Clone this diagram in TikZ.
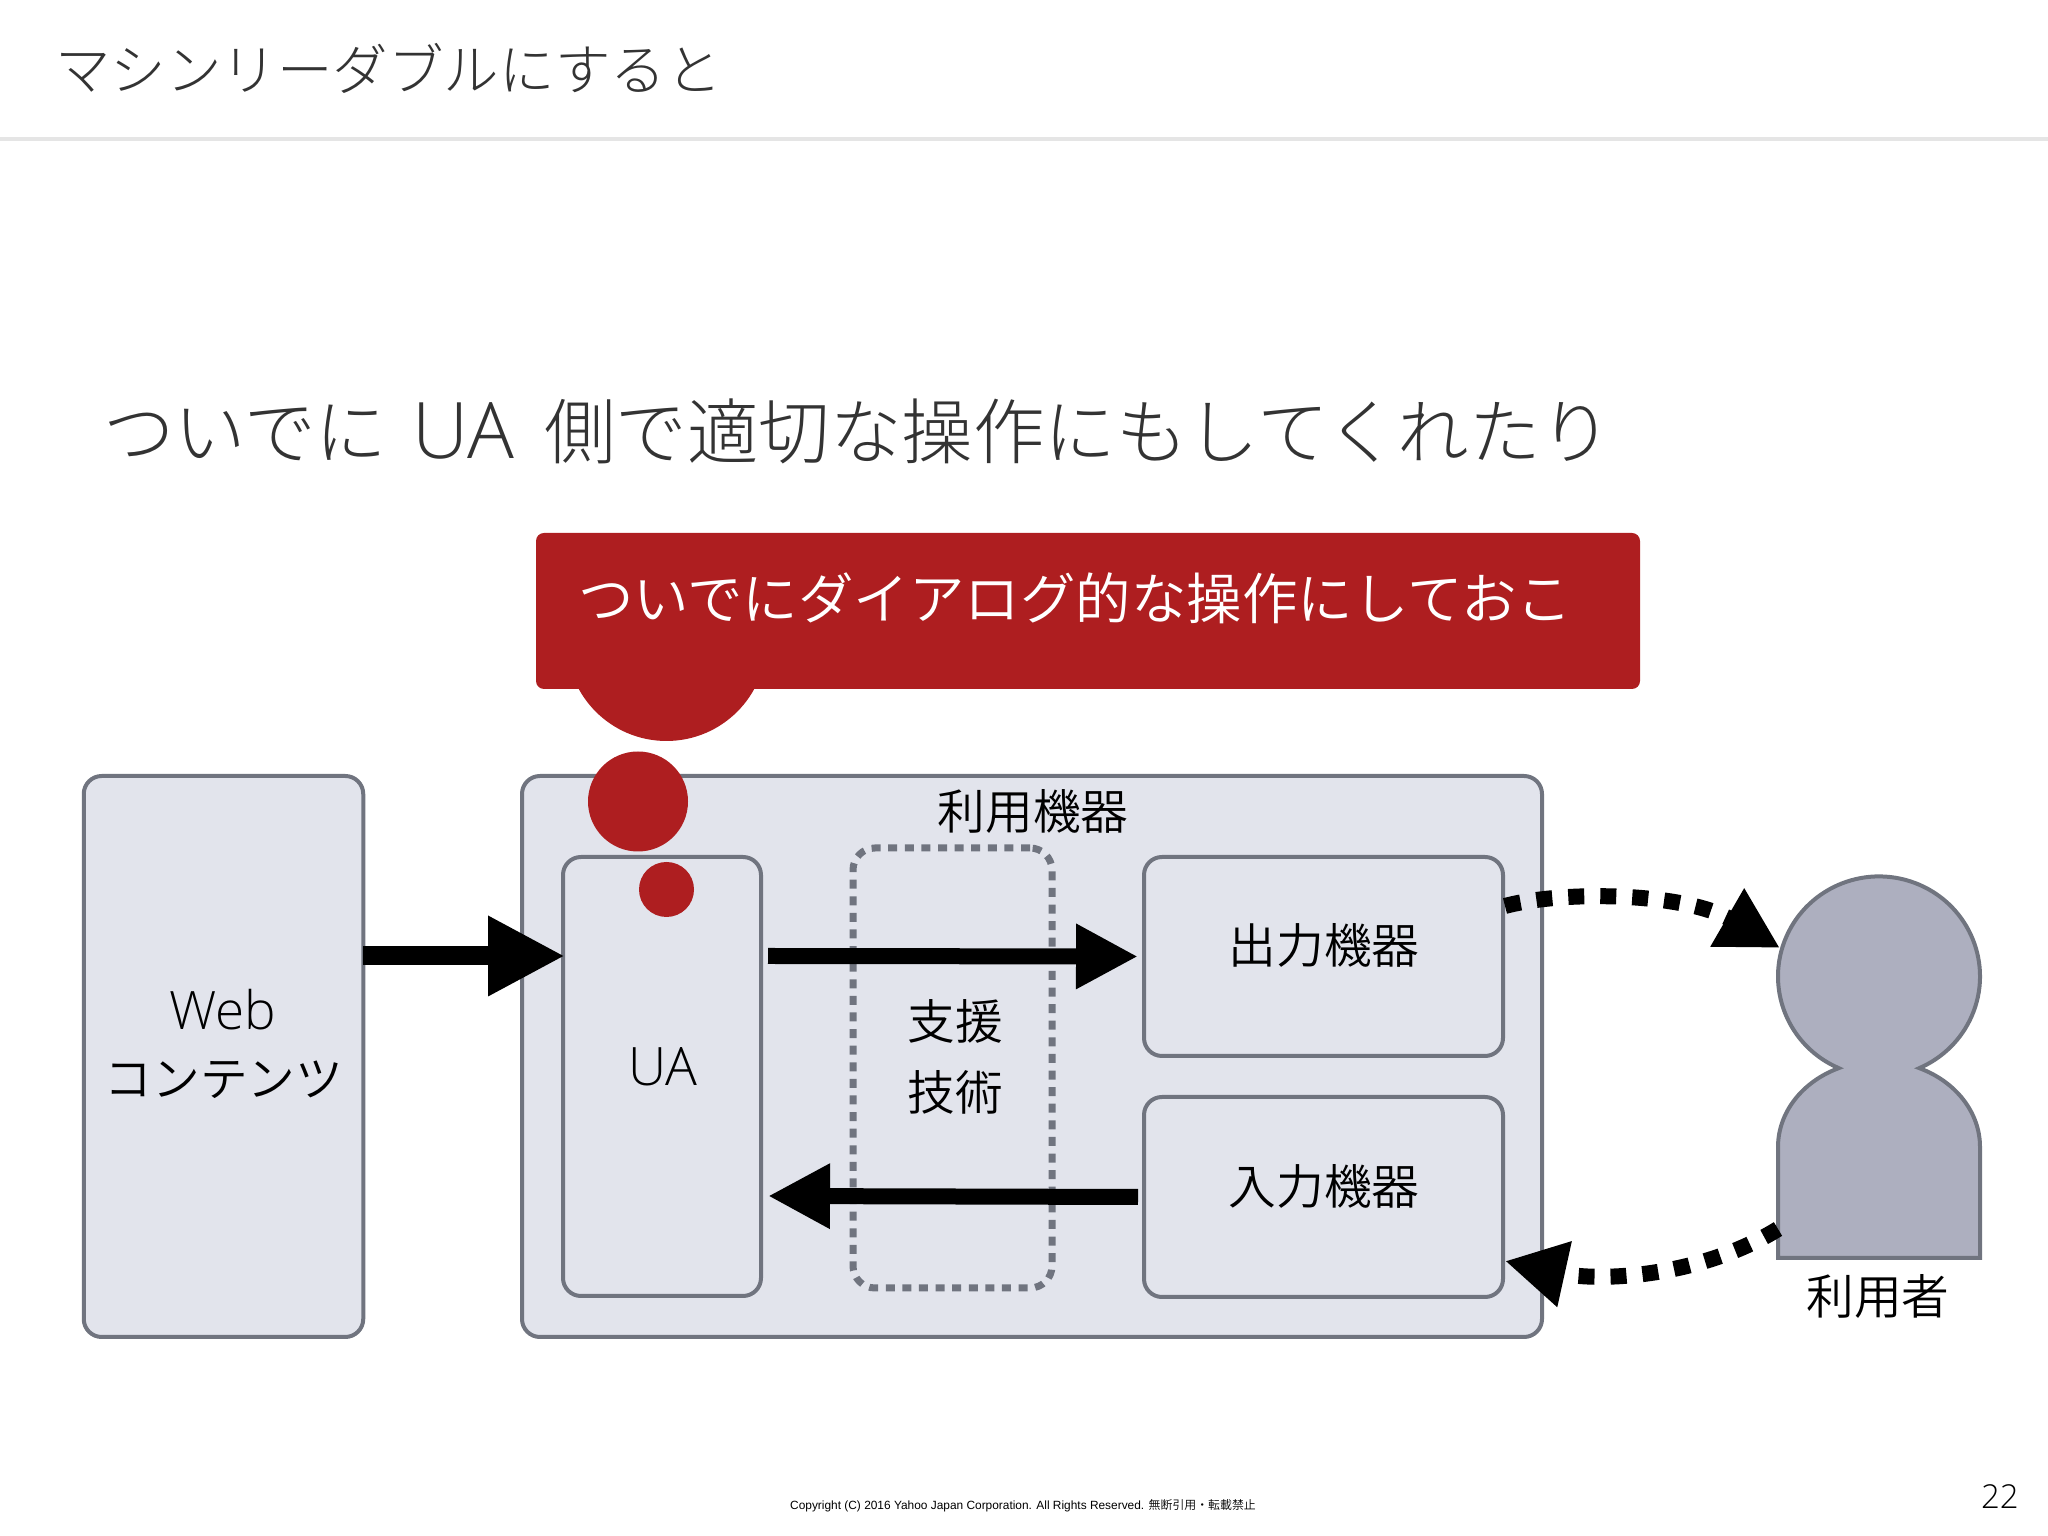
\documentclass[tikz,border=0pt]{standalone}
\usepackage{fontspec}
\setmainfont{Noto Sans CJK JP DemiLight}
\newfontfamily\leadfont{Noto Sans CJK JP Light}
\newfontfamily\latinfont{Open Sans Light}
\newfontfamily\footfont{Liberation Sans}
\usetikzlibrary{arrows.meta}
\usetikzlibrary{positioning}
\definecolor{boxfill}{HTML}{E2E4EC}
\definecolor{boxline}{HTML}{70747F}
\definecolor{userfill}{HTML}{ADAFBF}
\definecolor{bubblered}{HTML}{AE1E20}
\definecolor{inktext}{HTML}{333333}
\tikzset{
  devbox/.style={draw=boxline, fill=boxfill, line width=4pt, rounded corners=18pt, inner sep=0pt},
  supportbox/.style={draw=boxline, line width=7pt, rounded corners=22pt, dash pattern=on 9pt off 7.6pt, inner sep=0pt},
  bubble/.style={fill=bubblered, inner sep=0pt},
  boxlabel/.style={font=\fontsize{47.7}{47.7}\selectfont, inner sep=0pt},
  latinlabel/.style={font=\fontsize{53}{53}\selectfont\latinfont, inner sep=0pt},
  bigflow/.style={line width=19pt, -{Triangle[length=77pt, width=75pt]}},
  midflow/.style={line width=16pt, -{Triangle[length=62pt, width=61pt]}},
  userflow/.style={line width=16pt, dash pattern=on 16pt off 16pt, -{Triangle[length=61pt, width=63pt]}},
}

\begin{document}
\begin{tikzpicture}[x=1pt, y=1pt]
    \useasboundingbox (0, 0) rectangle (2048, 1536);

    % slide head
    \node[font=\fontsize{55.5}{55.5}\selectfont\leadfont, text=inktext, anchor=west, inner sep=0pt] (title) at (55, 1468) {マシンリーダブルにすると};
    \draw[line width=4pt, color=black!10] (0, 1396.5) -- (2048, 1396.5);
    \node[font=\fontsize{71.5}{71.5}\selectfont\leadfont, text=inktext, anchor=west, inner sep=0pt] (lead) at (103, 1105) {ついでに\hspace{25pt}{\fontsize{78}{78}\selectfont\latinfont UA}\hspace{30pt}側で適切な操作にもしてくれたり};

    % boxes
    \node[devbox, minimum width=279.5pt, minimum height=561pt] (web) at (223.5, 479.5) {};
    \node[devbox, minimum width=1020pt, minimum height=561pt] (device) at (1032, 479.5) {};
    \node[devbox, minimum width=198pt, minimum height=439pt] (ua) at (662, 459.5) {};
    \node[supportbox, minimum width=199pt, minimum height=440pt] (support) at (952.5, 468) {};
    \node[devbox, minimum width=359pt, minimum height=199pt] (output) at (1323.5, 579.5) {};
    \node[devbox, minimum width=359pt, minimum height=200pt] (input) at (1323.5, 339) {};

    % box labels
    \node[latinlabel] (weblabel) at (223, 526) {Web};
    \node[boxlabel] (webkana) at (224, 456) {コンテンツ};
    \node[boxlabel] (devicelabel) at (1033, 725) {利用機器};
    \node[latinlabel] (ualabel) at (663, 469) {UA};
    \node[boxlabel] (supportlabel) at (955, 515) {支援};
    \node[boxlabel] (supportlabeltwo) at (955, 444) {技術};
    \node[boxlabel] (outputlabel) at (1324, 591) {出力機器};
    \node[boxlabel] (inputlabel) at (1324, 350) {入力機器};

    % user
    \path[draw=boxline, fill=userfill, line width=4pt] (1778, 278) -- (1778, 389)
      arc[start angle=180, end angle=113.5, x radius=101pt, y radius=86pt]
      arc[start angle=246.5, end angle=-66.5, x radius=101pt, y radius=100pt]
      arc[start angle=66.5, end angle=0, x radius=101pt, y radius=86pt]
      -- ++(0, -111) -- cycle;
    \node[boxlabel] (userlabel) at (1878, 240) {利用者};

    % flows
    \draw[bigflow] ([yshift=100.5pt, xshift=-2pt]web.east) -- ([yshift=120.5pt, xshift=4pt]ua.west);
    \draw[midflow] ([yshift=120.5pt, xshift=5pt]ua.east) -- ([xshift=-4pt]output.west);
    \draw[midflow] ([xshift=-4pt]input.west) -- ([yshift=-119.5pt, xshift=5pt]ua.east);

    \coordinate (userin) at (1780, 588);
    \coordinate (userout) at (1778, 307);
    \draw[userflow] ([yshift=50.5pt]output.east) .. controls (1565, 646) and (1685, 643) .. (userin);
    \draw[userflow] (userout) .. controls (1700, 259) and (1600, 254) .. ([yshift=-64pt]input.east);

    % thought bubble
    \node[bubble, circle, minimum size=55pt] (dropsmall) at (666.5, 646.5) {};
    \node[bubble, circle, minimum size=100pt] (dropmid) at (638, 734.5) {};
    \node[bubble, circle, minimum size=200pt] (dropbig) at (666.5, 895) {};
    \node[bubble, rounded corners=8pt, minimum width=1104pt, minimum height=156pt] (callout) at (1088, 925) {};
    \node[font=\fontsize{55.5}{55.5}\selectfont, text=white, inner sep=0pt] (callouttext) at (1075, 938) {ついでにダイアログ的な操作にしておこ};

    % foot
    \node[font=\fontsize{11.9}{11.9}\selectfont, anchor=west, inner sep=0pt] (copyright) at (790, 30) {\footfont Copyright (C) 2016 Yahoo Japan Corporation. All Rights Reserved. {\rmfamily\fontsize{11.9}{11.9}\selectfont 無断引用・転載禁止}};
    \node[font=\fontsize{33}{33}\selectfont\latinfont, text=black, anchor=east, inner sep=0pt] (pagenum) at (2019, 39) {22};
\end{tikzpicture}
\end{document}
